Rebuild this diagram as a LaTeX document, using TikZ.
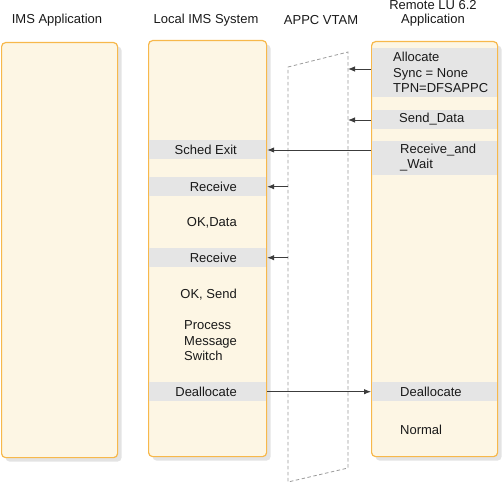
\documentclass[tikz,border=0pt]{standalone}
\usepackage{fontspec}
\setmainfont{Liberation Sans}
\usetikzlibrary{positioning,arrows.meta,shadows}

\definecolor{boxfill}{HTML}{FDF6E4}
\definecolor{boxline}{HTML}{F7B84B}
\definecolor{bandgray}{HTML}{E5E5E5}
\definecolor{shadowgray}{HTML}{E3E3E3}
\definecolor{arrowgray}{HTML}{3C3C3C}

\begin{document}
\begin{tikzpicture}[x=1pt,y=-1pt]
	\tikzset{box/.style = {draw=boxline, fill=boxfill, line width=1.2pt, rounded corners=4pt, inner sep=0, anchor=north west,
		drop shadow={shadow xshift=4pt, shadow yshift=-4pt, fill=shadowgray, opacity=1}}}
	\tikzset{band/.style = {fill=bandgray, inner sep=0, anchor=north west}}
	\tikzset{txt/.style = {inner sep=0, font=\fontsize{13}{15.5}\selectfont, text=black!90}}
	\tikzset{func/.style = {->, > = {Latex[length=7pt,width=5.5pt]}, draw=arrowgray, line width=0.9pt}}
	\tikzset{vtam/.style = {draw=black!40, dash pattern=on 3.5pt off 2.5pt, line width=0.8pt}}

	\useasboundingbox (0,0) rectangle (502,484);

	% titles
	\node[txt] (tims) at (57,20) {IMS Application};
	\node[txt] (tlocal) at (206,20) {Local IMS System};
	\node[txt] (tvtam) at (321,20) {APPC VTAM};
	\node[txt, align=center] (tremote) at (433,13) {Remote LU 6.2\\[-1.5pt]Application};

	% boxes
	\node[box, minimum width=116pt, minimum height=415pt] (ims) at (1,42){};
	\node[box, minimum width=118pt, minimum height=416pt] (local) at (148,40){};
	\node[box, minimum width=126pt, minimum height=415pt] (remote) at (371,41){};

	% vtam
	\coordinate (vtl) at (288,67);
	\coordinate (vtr) at (348,52);
	\coordinate (vbr) at (348,468);
	\coordinate (vbl) at (288,482);
	\draw[vtam] (vtl) -- (vtr) -- (vbr) -- (vbl) -- cycle;

	% bands local
	\node[band, minimum width=116.8pt, minimum height=19pt] (bsched) at (148.6,140){};
	\node[band, minimum width=116.8pt, minimum height=19pt] (brecv1) at (148.6,177){};
	\node[band, minimum width=116.8pt, minimum height=19pt] (brecv2) at (148.6,248){};
	\node[band, minimum width=116.8pt, minimum height=19pt] (bdeal1) at (148.6,382){};

	% bands remote
	\node[band, minimum width=124.8pt, minimum height=49pt] (balloc) at (371.6,48){};
	\node[band, minimum width=124.8pt, minimum height=19pt] (bsend) at (371.6,110){};
	\node[band, minimum width=124.8pt, minimum height=34pt] (brw) at (371.6,141){};
	\node[band, minimum width=124.8pt, minimum height=19pt] (bdeal2) at (371.6,382){};

	% texts local
	\node[txt, anchor=east] (lsched) at (237,149.5) {Sched Exit};
	\node[txt, anchor=east] (lrecv1) at (237,186.5) {Receive};
	\node[txt, anchor=east] (lokdata) at (237,223) {OK,Data};
	\node[txt, anchor=east] (lrecv2) at (237,257.5) {Receive};
	\node[txt, anchor=east] (loksend) at (237,294.5) {OK, Send};
	\node[txt, anchor=west, align=left] (lswitch) at (184,341) {Process\\Message\\Switch};
	\node[txt, anchor=east] (ldeal) at (237,391.5) {Deallocate};

	% texts remote
	\node[txt, anchor=west, align=left] (ralloc) at (393,72.5) {Allocate\\Sync = None\\TPN=DFSAPPC};
	\node[txt, anchor=west] (rsend) at (399,119.5) {Send\_Data};
	\node[txt, anchor=west, align=left] (rrw) at (400,157.5) {Receive\_and\\\_Wait};
	\node[txt, anchor=west] (rdeal) at (400,391.5) {Deallocate};
	\node[txt, anchor=west] (rnormal) at (400,430) {Normal};

	% arrows
	\coordinate (aalloc) at (348,69);
	\draw[func] (remote.west |- aalloc) -- (aalloc);
	\coordinate (asend) at (348,120);
	\draw[func] (remote.west |- asend) -- (asend);
	\coordinate (arw) at (371,150);
	\draw[func] (arw) -- (arw -| local.east);
	\draw[func] (vtl |- brecv1.east) -- (local.east |- brecv1.east);
	\draw[func] (vtl |- brecv2.east) -- (local.east |- brecv2.east);
	\draw[func] (local.east |- bdeal1.east) -- (remote.west |- bdeal1.east);
\end{tikzpicture}
\end{document}
